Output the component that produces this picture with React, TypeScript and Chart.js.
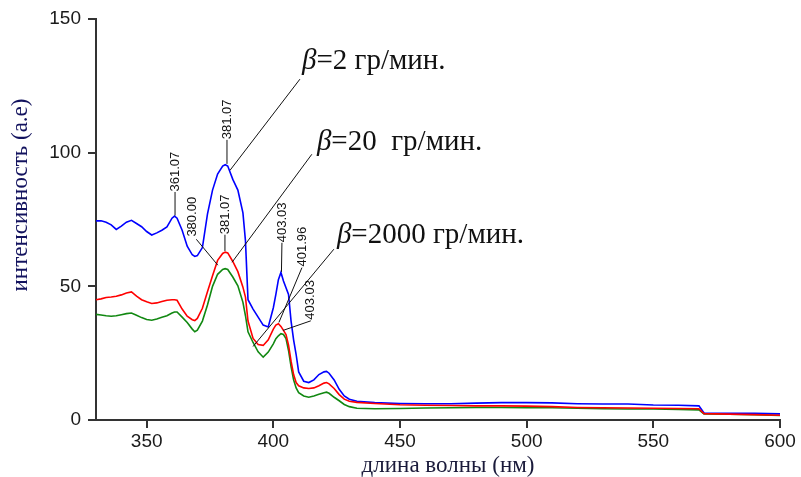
import React, { useEffect, useRef } from "react";
import { Chart, registerables } from "chart.js";

Chart.register(...registerables);

// ---- data (wavelength in nm, intensity in a.e.) ----
const wavelengths = [
  330, 332, 334, 336, 338, 340, 342, 344, 346, 348, 350, 352, 354, 356, 358, 360, 361, 362, 364, 366,
  368, 369, 370, 372, 374, 376, 378, 380, 381, 382, 384, 386, 388, 389, 390, 392, 394, 396, 398, 400, 401,
  402, 403, 404, 405, 406, 407, 408, 409, 410, 412, 414, 416, 418, 420, 421, 422, 424, 426, 428, 430,
  433, 440, 450, 460, 470, 480, 490, 500, 510, 520, 530, 540, 550, 560, 568, 570, 580, 590, 600,
];

const blue2 = [
  74.5, 74.5, 74, 73, 71.3, 72.5, 74, 74.7, 73.5, 72.3, 70.5, 69.2, 70, 71, 72.2, 75.5, 76.3, 75.5, 71, 65,
  61.8, 61.2, 61.5, 64.5, 77, 86, 92, 95, 95.5, 95, 90, 86, 77.5, 67, 45, 41.5, 38.5, 35.5, 34.8, 42, 47,
  52.5, 55.2, 52, 49.5, 47, 37, 30, 24.5, 18, 14.5, 14, 15, 17, 18, 18.2, 17.5, 15, 11.5, 9, 7.8,
  7, 6.5, 6.2, 6.1, 6.1, 6.3, 6.5, 6.5, 6.4, 6.1, 6, 6, 5.6, 5.5, 5.3, 2.6, 2.5, 2.5, 2.3,
];

const red20 = [
  45, 45.3, 45.8, 46, 46.3, 46.8, 47.5, 47.9, 46.3, 45, 44.2, 43.6, 43.8, 44.3, 44.8, 45, 45, 44.8, 41.5, 38.8,
  37.5, 37.2, 38, 41.8, 48, 54, 59.7, 62.3, 62.8, 62.5, 59.3, 55.5, 49.7, 46, 37, 30.5, 28.2, 27.9, 30, 34, 35.5,
  36, 35, 33.5, 32, 28, 22, 17, 14, 12.8, 12, 11.8, 12, 12.8, 13.8, 14, 13.5, 11.8, 9.5, 7.8, 7,
  6.6, 6.2, 5.7, 5.5, 5.4, 5.3, 5.3, 5.2, 5, 4.7, 4.6, 4.5, 4.4, 4.3, 4.2, 2.4, 2.2, 2, 1.8,
];

const green2000 = [
  39.5, 39.3, 39, 38.8, 39, 39.4, 39.8, 40, 39.2, 38.3, 37.6, 37.3, 37.8, 38.4, 39, 40, 40.4, 40.4, 38.5, 36.5,
  34, 33, 33.6, 37, 43, 50, 54.5, 56.3, 56.6, 56.3, 53.5, 50.2, 44, 39, 33, 29, 25.5, 23.5, 25.4, 28.5, 30.4,
  31.5, 32.3, 32, 30.5, 26, 20, 15, 12, 10.2, 9, 8.5, 9, 9.6, 10.2, 10.4, 10, 8.5, 7.2, 5.8, 5,
  4.4, 4.2, 4.3, 4.5, 4.6, 4.7, 4.7, 4.6, 4.6, 4.4, 4.2, 4.1, 4.1, 3.9, 3.8, 2.3, 2.2, 2, 1.7,
];

const xTicks = [350, 400, 450, 500, 550, 600];
const yTicks = [0, 50, 100, 150];

const xTitle = "длина волны (нм)";
const yTitle = "интенсивность (a.e)";

// peak labels: text, anchor (bottom of rotated text), leader line from/to (nm, a.e.)
const peakText = ["361.07", "381.07", "380.00", "381.07", "403.03", "401.96", "403.03"];
const peakX = [361.2, 381.7, 367.9, 380.9, 403.4, 411.3, 414.5];
const peakY = [85.5, 105, 68.6, 69.5, 66.5, 57.4, 37.5];
const peakLineFrom = [
  [361.2, 85.3], [381.7, 104.8], [369.6, 67.6], [380.9, 69.3], [403.4, 66.3], [411.3, 57.0], [414.8, 37.1],
];
const peakLineTo = [
  [361.2, 76.5], [381.7, 95.8], [378.1, 57.9], [380.9, 63.2], [403.2, 55.4], [402.2, 36.5], [403.8, 33.5],
];

// heating-rate labels
const betaText = ["=2 гр/мин.", "=20  гр/мин.", "=2000 гр/мин."];
const betaX = [411.3, 417.2, 425.1];
const betaY = [131.2, 100.9, 66.1];
const betaLineFrom = [[410.5, 127.5], [415.2, 99.4], [423.9, 63.9]];
const betaLineTo = [[382.9, 93.4], [383.7, 59], [392, 27.5]];

const SERIF = '"Liberation Serif", "Times New Roman", serif';
const SANS = '"Liberation Sans", Arial, sans-serif';

const annotationPlugin = {
  id: "spectraAnnotations",
  afterDatasetsDraw(chart: any) {
    const ctx = chart.ctx as CanvasRenderingContext2D;
    const xs = chart.scales.x;
    const ys = chart.scales.y;
    const px = (v: number) => xs.getPixelForValue(v);
    const py = (v: number) => ys.getPixelForValue(v);
    ctx.save();

    // leader lines
    ctx.strokeStyle = "#111";
    ctx.lineWidth = 1;
    const line = (a: number[], b: number[]) => {
      ctx.beginPath();
      ctx.moveTo(px(a[0]), py(a[1]));
      ctx.lineTo(px(b[0]), py(b[1]));
      ctx.stroke();
    };
    peakLineFrom.forEach((f, i) => line(f, peakLineTo[i]));
    betaLineFrom.forEach((f, i) => line(f, betaLineTo[i]));

    // rotated peak labels
    ctx.fillStyle = "#111";
    ctx.font = `13px ${SANS}`;
    ctx.textAlign = "left";
    ctx.textBaseline = "middle";
    peakText.forEach((t, i) => {
      ctx.save();
      ctx.translate(px(peakX[i]), py(peakY[i]));
      ctx.rotate(-Math.PI / 2);
      ctx.fillText(t, 0, 0);
      ctx.restore();
    });

    // beta labels
    ctx.textBaseline = "alphabetic";
    betaText.forEach((t, i) => {
      const x0 = px(betaX[i]);
      const y0 = py(betaY[i]);
      ctx.font = `italic 29px ${SERIF}`;
      ctx.fillText("β", x0, y0);
      const w = ctx.measureText("β").width;
      ctx.font = `29px ${SERIF}`;
      ctx.fillText(t, x0 + w, y0);
    });

    // axis titles
    ctx.fillStyle = "#1a1a3a";
    ctx.font = `23px ${SERIF}`;
    ctx.textAlign = "center";
    ctx.textBaseline = "middle";
    ctx.fillText(xTitle, 448, 466);

    ctx.save();
    ctx.fillStyle = "#12125e";
    ctx.translate(21, 195);
    ctx.rotate(-Math.PI / 2);
    ctx.fillText(yTitle, 0, 0);
    ctx.restore();

    ctx.restore();
  },
};

export default function App() {
  const canvasRef = useRef<HTMLCanvasElement | null>(null);

  useEffect(() => {
    document.body.style.margin = "0";
    const canvas = canvasRef.current;
    if (!canvas) return;
    const mk = (vals: number[]) => wavelengths.map((w, i) => ({ x: w, y: vals[i] }));
    const chart = new Chart(canvas, {
      type: "line",
      data: {
        datasets: [
          { label: "β=20 гр/мин.", data: mk(red20), borderColor: "#ff0000", borderWidth: 1.6, pointRadius: 0, fill: false },
          { label: "β=2 гр/мин.", data: mk(blue2), borderColor: "#0000ff", borderWidth: 1.6, pointRadius: 0, fill: false },
          { label: "β=2000 гр/мин.", data: mk(green2000), borderColor: "#118811", borderWidth: 1.6, pointRadius: 0, fill: false },
        ],
      },
      options: {
        responsive: false,
        animation: false,
        devicePixelRatio: 1,
        layout: { padding: { top: 19, right: 21, left: 0, bottom: 0 } },
        plugins: { legend: { display: false }, tooltip: { enabled: false } },
        scales: {
          x: {
            type: "linear",
            min: 330,
            max: 600,
            afterBuildTicks: (s: any) => {
              s.ticks = xTicks.map((v) => ({ value: v }));
            },
            afterFit: (s: any) => {
              s.height = 57;
            },
            ticks: { color: "#1a1a1a", font: { family: SANS, size: 19 }, padding: 2, maxRotation: 0 },
            grid: { drawOnChartArea: false, drawTicks: true, tickLength: 8, color: "#333", lineWidth: 2 },
            border: { display: true, color: "#333", width: 2 },
          },
          y: {
            type: "linear",
            min: 0,
            max: 150,
            afterBuildTicks: (s: any) => {
              s.ticks = yTicks.map((v) => ({ value: v }));
            },
            afterFit: (s: any) => {
              s.width = 96;
            },
            ticks: { color: "#1a1a1a", font: { family: SANS, size: 19 }, padding: 7 },
            grid: { drawOnChartArea: false, drawTicks: true, tickLength: 8, color: "#333", lineWidth: 2 },
            border: { display: true, color: "#333", width: 2 },
          },
        },
      },
      plugins: [annotationPlugin],
    });
    return () => chart.destroy();
  }, []);

  return (
    <div style={{ width: 801, height: 477, background: "#fff" }}>
      <canvas ref={canvasRef} width={801} height={477} style={{ display: "block" }} />
    </div>
  );
}
